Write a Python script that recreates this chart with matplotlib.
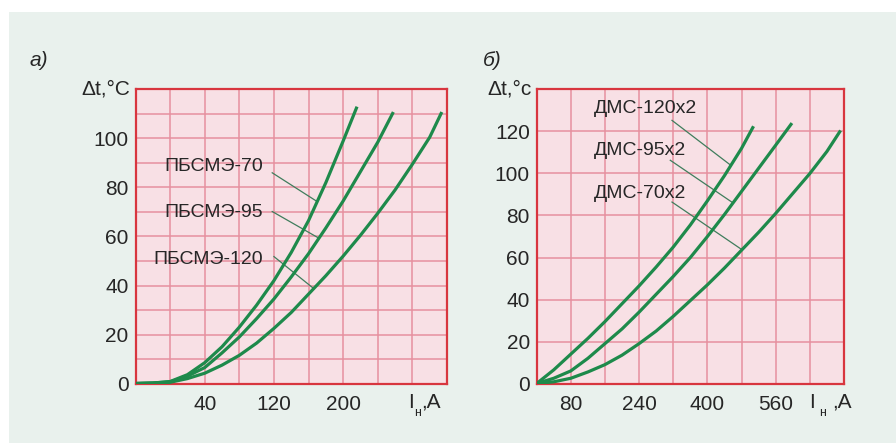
import numpy as np
import matplotlib
matplotlib.use("Agg")
import matplotlib.pyplot as plt
from matplotlib.patches import Rectangle

# ---- panel а): ПБСМЭ cables, Δt vs load current ----
i_pbsme70 = [-40, -20, 0, 20, 40, 60, 80, 100, 120, 140, 160, 180, 200, 216]
dt_pbsme70 = [0, 0.2, 0.8, 3.6, 8.5, 15, 23, 32, 42, 53.5, 66.5, 82, 99, 113]

i_pbsme95 = [-40, -20, 0, 20, 40, 60, 80, 100, 120, 140, 160, 180, 200, 220, 240, 258]
dt_pbsme95 = [0, 0.2, 0.7, 3, 6.5, 12.5, 19, 26.5, 34.5, 43.5, 53, 63.5, 74.5, 86.5, 98.5, 110.8]

i_pbsme120 = [-40, -20, 0, 20, 40, 60, 80, 100, 120, 140, 160, 180, 200, 220, 240, 260, 280, 300, 314]
dt_pbsme120 = [0, 0.1, 0.5, 2, 4.2, 7.5, 11.5, 16.5, 22.5, 29, 36.5, 44, 52, 60.5, 69.5, 79, 89.5, 100.5, 110.8]

names_a = ["ПБСМЭ-70", "ПБСМЭ-95", "ПБСМЭ-120"]
xticks_a = [40, 120, 200]
yticks_a = [0, 20, 40, 60, 80, 100]

# ---- panel б): ДМС cables ----
i_dms120 = [0, 40, 80, 120, 160, 200, 240, 280, 320, 360, 400, 440, 480, 508]
dt_dms120 = [0, 6.5, 14, 21.5, 29.5, 38, 46.5, 55.5, 65, 75.5, 87, 99, 112, 122.5]

i_dms95 = [0, 40, 80, 120, 160, 200, 240, 280, 320, 360, 400, 440, 480, 520, 560, 598]
dt_dms95 = [0, 2.5, 6, 12, 19, 26, 34, 42.5, 51, 60, 70, 80.5, 91.5, 102.5, 113.5, 124]

i_dms70 = [0, 40, 80, 120, 160, 200, 240, 280, 320, 360, 400, 440, 480, 520, 560, 600, 640, 680, 712]
dt_dms70 = [0, 0.8, 2.5, 5.5, 9, 13.5, 19, 25, 32, 39.5, 47, 55, 63.5, 72, 81, 90.5, 100, 110.5, 120.5]

names_b = ["ДМС-120x2", "ДМС-95x2", "ДМС-70x2"]
xticks_b = [80, 240, 400, 560]
yticks_b = [0, 20, 40, 60, 80, 100, 120]

# ---- style ----
W, H = 896, 447
BG = "#e9f1ed"
PANEL = "#f8e0e5"
GRID = "#e6909f"
FRAME = "#d8363f"
CURVE = "#1e8a4b"
LEADER = "#3f7d5c"
TXT = "#262626"
FONT = ["Liberation Sans", "DejaVu Sans"]
TICK_SIZE = 15

plt.rcParams["font.family"] = FONT

fig = plt.figure(figsize=(W / 100, H / 100), dpi=100, facecolor="white")
fig.patches.append(Rectangle((9 / W, 4 / H), (W - 9) / W, (443 - 12) / H,
                             transform=fig.transFigure, facecolor=BG,
                             edgecolor="none", zorder=-10))


def px_box(x0, x1, ytop, ybot):
    return [x0 / W, 1 - ybot / H, (x1 - x0) / W, (ybot - ytop) / H]


def style_axes(ax, xlim, ylim, xstep, ystep, xticks, yticks):
    ax.set_facecolor(PANEL)
    ax.set_xlim(*xlim)
    ax.set_ylim(*ylim)
    ax.set_xticks(np.arange(xlim[0], xlim[1] + 1e-9, xstep), minor=True)
    ax.set_yticks(np.arange(ylim[0], ylim[1] + 1e-9, ystep), minor=True)
    ax.set_xticks(xticks)
    ax.set_yticks(yticks)
    ax.grid(True, which="both", color=GRID, linewidth=1.1, zorder=0)
    ax.set_axisbelow(True)
    ax.tick_params(which="both", length=0)
    ax.tick_params(axis="x", pad=8, labelsize=TICK_SIZE, labelcolor=TXT)
    ax.tick_params(axis="y", pad=5, labelsize=TICK_SIZE, labelcolor=TXT)
    for s in ax.spines.values():
        s.set_color(FRAME)
        s.set_linewidth(1.6)


def current_label(ax, x, dx_sub, dx_rest):
    kw = dict(xycoords=("data", "axes fraction"), textcoords="offset pixels",
              color=TXT, va="center", ha="left", annotation_clip=False)
    ax.annotate("I", xy=(x, 0), xytext=(0, -19), fontsize=TICK_SIZE, **kw)
    ax.annotate("н", xy=(x, 0), xytext=(dx_sub, -30), fontsize=9, **kw)
    ax.annotate(",A", xy=(x, 0), xytext=(dx_rest, -19), fontsize=TICK_SIZE, **kw)


def leader(ax, name, text_xy, start, end_x, xs, ys, ha):
    ax.text(text_xy[0], text_xy[1], name, ha=ha, va="center", fontsize=14,
            color=TXT, zorder=5)
    ax.plot([start[0], end_x], [start[1], np.interp(end_x, xs, ys)],
            color=LEADER, linewidth=0.9, zorder=3)


# ---- panel а) ----
ax1 = fig.add_axes(px_box(135.5, 447, 89.5, 383.5))
style_axes(ax1, (-40, 320), (0, 120), 40, 10, xticks_a, yticks_a)
series_a = [(i_pbsme70, dt_pbsme70), (i_pbsme95, dt_pbsme95), (i_pbsme120, dt_pbsme120)]
for xs, ys in series_a:
    ax1.plot(xs, ys, color=CURVE, linewidth=2.3, solid_capstyle="butt", zorder=4)

text_pos_a = [(107, 88.6), (107, 69.7), (107, 50.5)]
start_a = [(118, 86), (118, 70.2), (120, 51.8)]
end_a = [170, 172, 166]
for name, tp, st, ex, (xs, ys) in zip(names_a, text_pos_a, start_a, end_a, series_a):
    leader(ax1, name, tp, st, ex, xs, ys, "right")

ax1.text(-0.016, 1.0, "Δt,°C", transform=ax1.transAxes, ha="right", va="center",
         fontsize=TICK_SIZE, color=TXT)
current_label(ax1, 275.4, 6, 13)

# ---- panel б) ----
ax2 = fig.add_axes(px_box(536.7, 844, 89.5, 383.5))
style_axes(ax2, (0, 720), (0, 140), 80, 20, xticks_b, yticks_b)
series_b = [(i_dms120, dt_dms120), (i_dms95, dt_dms95), (i_dms70, dt_dms70)]
for xs, ys in series_b:
    ax2.plot(xs, ys, color=CURVE, linewidth=2.3, solid_capstyle="butt", zorder=4)

text_pos_b = [(133.6, 130.8), (133.6, 111), (133.6, 90.4)]
start_b = [(317, 125.3), (313, 106.3), (317, 86.4)]
end_b = [455, 460, 481]
for name, tp, st, ex, (xs, ys) in zip(names_b, text_pos_b, start_b, end_b, series_b):
    leader(ax2, name, tp, st, ex, xs, ys, "left")

ax2.text(-0.016, 1.0, "Δt,°c", transform=ax2.transAxes, ha="right", va="center",
         fontsize=TICK_SIZE, color=TXT)
current_label(ax2, 638.7, 10, 23)

# ---- panel letters ----
fig.text(30 / W, 1 - 60 / H, "а)", fontsize=15, style="italic",
         color=TXT, ha="left", va="center")
fig.text(483 / W, 1 - 60 / H, "б)", fontsize=15, style="italic",
         color=TXT, ha="left", va="center")

fig.savefig("out.png", dpi=100, facecolor=fig.get_facecolor())
